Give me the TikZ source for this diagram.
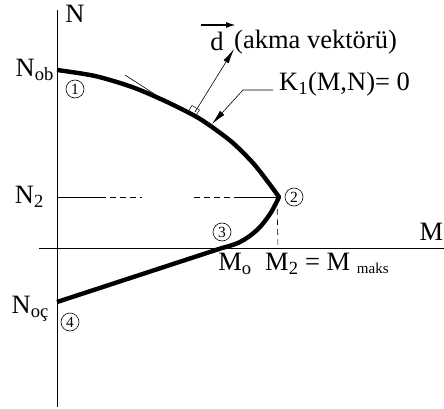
\documentclass[tikz,border=0pt]{standalone}
\usepackage{fontspec}
\setmainfont{Liberation Serif}
\usetikzlibrary{arrows.meta}
\tikzset{
  lbl/.style={inner sep=0pt, font=\fontsize{26.5}{30}\selectfont},
  circnum/.style={draw, circle, line width=0.6pt, inner sep=0pt, minimum size=18pt, font=\fontsize{15.5}{17}\selectfont},
  curve/.style={line width=4.4pt, line join=round},
  axis/.style={line width=0.9pt},
  thinline/.style={line width=0.6pt},
  dashline/.style={line width=0.6pt, dash pattern=on 6pt off 4pt},
  longtip/.style={-{Latex[length=15pt,width=6pt]}}
}
\begin{document}
\begin{tikzpicture}[x=1pt,y=-1pt]
\useasboundingbox (0,0) rectangle (444,409);
% axes
\coordinate (ytop) at (57,10);
\coordinate (ybot) at (57,407);
\coordinate (xl) at (39,248);
\coordinate (xr) at (444,248);
\draw[axis] (ytop) -- (ybot);
\draw[axis] (xl) -- (xr);
\node[lbl] (Nlab) at (75,14) {N};
\node[lbl, anchor=east] (Mlab) at (443.5,232) {M};
% key points
\coordinate (Nob) at (57,70);
\coordinate (P2) at (279,197);
\coordinate (Mo) at (222,248);
\coordinate (Noc) at (57,302);
\coordinate (M2) at (278,248);
\coordinate (N2a) at (57,197);
% curve
\draw[curve] plot[smooth, tension=0.5] coordinates {(57,70) (95,76) (132,87) (165,101) (195,116) (212,127) (233,143) (253,163) (268,182) (279,197)}
  -- plot[smooth, tension=0.6] coordinates {(279,197) (270,214) (257,230) (240,242) (222,248)} -- (Noc);
% N2 line
\coordinate (d1) at (100,197);
\coordinate (d2) at (142,197);
\coordinate (d3) at (194,197);
\coordinate (d4) at (237,197);
\draw[thinline] (N2a) -- (d1);
\draw[dashline] (d1) -- (d2);
\draw[dashline] (d3) -- (d4);
\draw[thinline] (d4) -- (P2);
\draw[dashline] (277,199) -- (M2);
% tangent line
\coordinate (t1) at (125,75);
\coordinate (t2) at (156,95);
\draw[thinline] (t1) -- (t2);
% normal vector
\coordinate (nb) at (195,112);
\coordinate (nt) at (234,49);
\draw[thinline, longtip] (nb) -- (nt);
\draw[line width=0.5pt] (192,105.5) -- ++(7.5,4.5) -- ++(-4.2,6.6) -- ++(-7.5,-4.5) -- cycle;
\fill (195.5,111) circle (0.5pt);
% d label
\node[lbl] (dlab) at (217,41) {d};
\coordinate (va) at (201,25);
\coordinate (vb) at (236,25);
\draw[line width=1.6pt, -{Latex[length=10pt,width=6pt]}] (va) -- (vb);
\node[lbl, anchor=west] (akma) at (234,42) {(akma vektörü)};
% K label
\node[lbl, anchor=west] (Klab) at (279,84) {K\textsubscript{1}(M,N)= 0};
\coordinate (k1) at (273,90);
\coordinate (k2) at (243,90);
\coordinate (kt) at (212,124);
\draw[thinline, longtip] (k1) -- (k2) -- (kt);
% axis labels
\node[lbl, anchor=east] (Noblab) at (54,70) {N\textsubscript{ob}};
\node[lbl, anchor=east] (N2lab) at (44,197) {N\textsubscript{2}};
\node[lbl, anchor=east] (Noclab) at (49,309) {N\textsubscript{oç}};
\node[lbl] (Molab) at (235,264) {M\textsubscript{o}};
\node[lbl, anchor=west] (M2lab) at (265,264) {M\textsubscript{2} = M {\fontsize{15}{17}\selectfont\raisebox{-3pt}{maks}}};
% circled numbers
\node[circnum] (c1) at (75,89) {1};
\node[circnum] (c2) at (294,197) {2};
\node[circnum] (c3) at (222,232) {3};
\node[circnum] (c4) at (70,322) {4};
\end{tikzpicture}
\end{document}
